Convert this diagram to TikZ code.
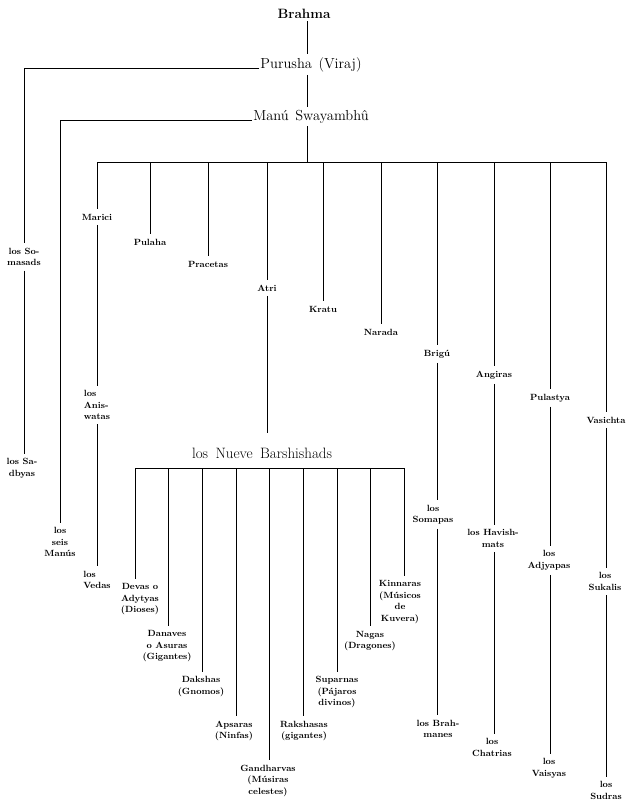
\documentclass[tikz,border=0pt]{standalone}
\begin{document}
\begin{tikzpicture}[x=1pt,y=-1pt,
  lab/.style={font=\bfseries\fontsize{9}{11.5}\selectfont, align=center, inner xsep=1pt, inner ysep=4.5pt},
  big/.style={font=\fontsize{14.5}{17}\selectfont, inner xsep=1pt, inner ysep=3pt},
  ln/.style={line width=1pt}]
\useasboundingbox (0,0) rectangle (632,801);

% top chain
\node[big,font=\bfseries\fontsize{13.5}{16}\selectfont,anchor=base] (brahma) at (304,18) {Brahma};
\node[big,anchor=base] (purusha) at (311,68) {Purusha\hspace{0.45em}(Viraj)};
\node[big,anchor=base] (manu) at (311,120) {Manú\hspace{0.45em}Swayambhû};
\coordinate (spine) at (307,162);

% first level
\coordinate (tMarici) at (97,162);
\coordinate (tPulaha) at (150,162);
\coordinate (tPracetas) at (208,162);
\coordinate (tAtri) at (267,162);
\coordinate (tKratu) at (323,162);
\coordinate (tNarada) at (381,162);
\coordinate (tBrigu) at (437,162);
\coordinate (tAngiras) at (494,162);
\coordinate (tPulastya) at (550,162);
\coordinate (tVasichta) at (606,162);

\node[lab] (somasads) at (24,257) {los So-\\masads};
\node[lab] (sadbyas) at (22,468.5) {los Sa-\\dbyas};
\node[lab] (seis) at (60,542) {los\\seis\\Manús};

\node[lab] (marici) at (97,217) {Marici};
\node[lab,align=left] (anis) at (97,405) {los\\Anis-\\watas};
\node[lab,align=left] (vedas) at (97,580) {los\\Vedas};
\node[lab] (pulaha) at (150,242) {Pulaha};
\node[lab] (pracetas) at (208,264) {Pracetas};
\node[lab] (atri) at (267,288) {Atri};
\node[lab] (kratu) at (323,309) {Kratu};
\node[lab] (narada) at (381,332) {Narada};
\node[lab] (brigu) at (437,354) {Brigú};
\node[lab] (somapas) at (433,514.5) {los\\Somapas};
\node[lab] (brahmanes) at (438,729) {los Brah-\\manes};
\node[lab] (angiras) at (494,375) {Angiras};
\node[lab] (havish) at (493,538.5) {los Havish-\\mats};
\node[lab] (chatrias) at (492,747.5) {los\\Chatrias};
\node[lab] (pulastya) at (550,398) {Pulastya};
\node[lab] (adjyapas) at (549,560.5) {los\\Adjyapas};
\node[lab] (vaisyas) at (549,768.5) {los\\Vaisyas};
\node[lab] (vasichta) at (606,420) {Vasichta};
\node[lab] (sukalis) at (605,581.5) {los\\Sukalis};
\node[lab] (sudras) at (606,790.5) {los\\Sudras};

% Barshishads
\node[big,font=\fontsize{15}{18}\selectfont,anchor=base,inner ysep=14pt] (nueve) at (262,458) {los\hspace{0.5em}Nueve\hspace{0.5em}Barshishads};
\coordinate (b1) at (135,468);
\coordinate (b2) at (168,468);
\coordinate (b3) at (202,468);
\coordinate (b4) at (236,468);
\coordinate (b5) at (269,468);
\coordinate (b6) at (303,468);
\coordinate (b7) at (337,468);
\coordinate (b8) at (370,468);
\coordinate (b9) at (404,468);

\node[lab] (devas) at (140,599.5) {Devas o\\Adytyas\\(Dioses)};
\node[lab] (danaves) at (167,646.5) {Danaves\\o Asuras\\(Gigantes)};
\node[lab] (dakshas) at (201,686.5) {Dakshas\\(Gnomos)};
\node[lab] (apsaras) at (234,731) {Apsaras\\(Ninfas)};
\node[lab] (gandharvas) at (268,780.5) {Gandharvas\\(Músiras\\celestes)};
\node[lab] (rakshasas) at (304,731) {Rakshasas\\(gigantes)};
\node[lab] (suparnas) at (337,692) {Suparnas\\(Pájaros\\divinos)};
\node[lab] (nagas) at (370,641) {Nagas\\(Dragones)};
\node[lab] (kinnaras) at (400,602) {Kinnaras\\(Músicos\\de\\Kuvera)};

% connectors: spine
\draw[ln] (brahma.south -| spine) -- (purusha.north -| spine);
\draw[ln] (purusha.south -| spine) -- (manu.north -| spine);
\draw[ln] (manu.south -| spine) -- (spine);
\draw[ln] (purusha.base west) -| (somasads.north);
\draw[ln] (somasads.south) -- (sadbyas.north -| somasads.south);
\draw[ln] (manu.base west) -| (seis.north);

% first bar
\draw[ln] (tMarici) -- (tVasichta);
\draw[ln] (tMarici) -- (tMarici |- marici.north);
\draw[ln] (tMarici |- marici.south) -- (tMarici |- anis.north);
\draw[ln] (tMarici |- anis.south) -- (tMarici |- vedas.north);
\draw[ln] (tPulaha) -- (tPulaha |- pulaha.north);
\draw[ln] (tPracetas) -- (tPracetas |- pracetas.north);
\draw[ln] (tAtri) -- (tAtri |- atri.north);
\draw[ln] (tAtri |- atri.south) -- (tAtri |- nueve.north);
\draw[ln] (tKratu) -- (tKratu |- kratu.north);
\draw[ln] (tNarada) -- (tNarada |- narada.north);
\draw[ln] (tBrigu) -- (tBrigu |- brigu.north);
\draw[ln] (tBrigu |- brigu.south) -- (tBrigu |- somapas.north);
\draw[ln] (tBrigu |- somapas.south) -- (tBrigu |- brahmanes.north);
\draw[ln] (tAngiras) -- (tAngiras |- angiras.north);
\draw[ln] (tAngiras |- angiras.south) -- (tAngiras |- havish.north);
\draw[ln] (tAngiras |- havish.south) -- (tAngiras |- chatrias.north);
\draw[ln] (tPulastya) -- (tPulastya |- pulastya.north);
\draw[ln] (tPulastya |- pulastya.south) -- (tPulastya |- adjyapas.north);
\draw[ln] (tPulastya |- adjyapas.south) -- (tPulastya |- vaisyas.north);
\draw[ln] (tVasichta) -- (tVasichta |- vasichta.north);
\draw[ln] (tVasichta |- vasichta.south) -- (tVasichta |- sukalis.north);
\draw[ln] (tVasichta |- sukalis.south) -- (tVasichta |- sudras.north);

% second bar
\draw[ln] (b1) -- (b9);
\draw[ln] (b1) -- (b1 |- devas.north);
\draw[ln] (b2) -- (b2 |- danaves.north);
\draw[ln] (b3) -- (b3 |- dakshas.north);
\draw[ln] (b4) -- (b4 |- apsaras.north);
\draw[ln] (b5) -- (b5 |- gandharvas.north);
\draw[ln] (b6) -- (b6 |- rakshasas.north);
\draw[ln] (b7) -- (b7 |- suparnas.north);
\draw[ln] (b8) -- (b8 |- nagas.north);
\draw[ln] (b9) -- (b9 |- kinnaras.north);
\end{tikzpicture}
\end{document}
